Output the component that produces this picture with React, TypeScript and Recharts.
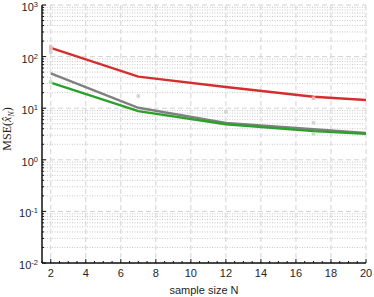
import { ComposedChart, Line, Scatter, XAxis, YAxis, CartesianGrid } from "recharts";

// sample sizes and mean squared errors of the three estimators
const sampleSizes = [2, 7, 12, 17, 20];
const redMse = [147, 40.8, 25.8, 16.7, 14.4];
const grayMse = [47.4, 10.2, 5.2, 3.9, 3.3];
const greenMse = [31.2, 8.8, 4.9, 3.6, 3.2];

// faint markers
const redMarkX = [2, 17];
const redMarkY = [148, 15.6];
const grayMarkX = [2, 2, 2, 7, 12, 17];
const grayMarkY = [122, 138, 158, 17.2, 8.5, 5.2];
const greenMarkX = [2, 17];
const greenMarkY = [32, 3.2];

const xTicks = [2, 4, 6, 8, 10, 12, 14, 16, 18, 20];
const yTicks = [0.01, 0.1, 1, 10, 100, 1000];

const xMinor: number[] = [];
for (let v = 1.5; v <= 20; v += 0.5) xMinor.push(v);
const yMinor: number[] = [];
for (let e = -2; e < 3; e++) for (let m = 2; m <= 9; m++) yMinor.push(m * Math.pow(10, e));
const yAll = [...yTicks, ...yMinor].sort((a, b) => a - b);

const zip = (xs: number[], ys: number[]) => xs.map((x, i) => ({ x, y: ys[i] }));

const isMajorX = (v: number) => xTicks.includes(v);
const isMajorY = (v: number) => Math.abs(Math.log10(v) - Math.round(Math.log10(v))) < 1e-9;

const font = "'Liberation Sans', Arial, sans-serif";
const axisColor = "#111";

const BottomTick = (p: any) => {
  const v = p.payload.value;
  const len = isMajorX(v) ? 4 : 2;
  return (
    <g>
      <line x1={p.x} x2={p.x} y1={p.y} y2={p.y - len} stroke={axisColor} />
      {isMajorX(v) && (
        <text x={p.x} y={p.y + 14} textAnchor="middle" fontSize={11} fontFamily={font} fill="#262626">
          {v}
        </text>
      )}
    </g>
  );
};

const TopTick = (p: any) => {
  const len = isMajorX(p.payload.value) ? 4 : 2;
  return <line x1={p.x} x2={p.x} y1={p.y} y2={p.y + len} stroke={axisColor} />;
};

const LeftTick = (p: any) => {
  const v = p.payload.value;
  const major = isMajorY(v);
  return (
    <g>
      <line x1={p.x} x2={p.x + (major ? 4 : 2)} y1={p.y} y2={p.y} stroke={axisColor} />
      {major && (
        <text x={p.x - 4} y={p.y + 6} textAnchor="end" fontSize={11} fontFamily={font} fill="#262626">
          10
          <tspan dy={-4} fontSize={7.5}>
            {Math.round(Math.log10(v))}
          </tspan>
        </text>
      )}
    </g>
  );
};

const RightTick = (p: any) => {
  const len = isMajorY(p.payload.value) ? 4 : 2;
  return <line x1={p.x} x2={p.x - len} y1={p.y} y2={p.y} stroke={axisColor} />;
};

const square = (fill: string) => (p: any) => (
  <rect x={p.cx - 1.75} y={p.cy - 1.75} width={3.5} height={3.5} fill={fill} />
);

export default function App() {
  return (
    <div style={{ position: "absolute", left: 0, top: 0 }}>
      <ComposedChart width={374} height={297} margin={{ top: 5, right: 8, bottom: 0, left: 0 }}>
        <CartesianGrid
          vertical={false}
          horizontalValues={yMinor}
          stroke="#c8c8c8"
          strokeDasharray="1 1.5"
        />
        <CartesianGrid vertical={false} horizontalValues={yTicks} stroke="#d2d2d2" strokeDasharray="5 3" />
        <CartesianGrid horizontal={false} verticalValues={xTicks} stroke="#d2d2d2" strokeDasharray="5 3" />
        <XAxis
          dataKey="x"
          type="number"
          domain={[1.5, 20]}
          allowDataOverflow
          ticks={xMinor}
          interval={0}
          tickSize={0}
          tickMargin={0}
          tickLine={false}
          tick={BottomTick}
          height={34}
          axisLine={{ stroke: axisColor, strokeWidth: 1.5 }}
          label={{
            content: (lp: any) => (
              <text
                x={lp.viewBox.x + lp.viewBox.width / 2}
                y={lp.viewBox.y + 31}
                textAnchor="middle"
                fontSize={11}
                fontFamily={font}
                fill="#262626"
              >
                sample size N
              </text>
            ),
          }}
        />
        <XAxis
          xAxisId="top"
          orientation="top"
          type="number"
          domain={[1.5, 20]}
          allowDataOverflow
          ticks={xMinor}
          interval={0}
          tickSize={0}
          tickMargin={0}
          tickLine={false}
          tick={TopTick}
          height={0}
          axisLine={{ stroke: axisColor, strokeWidth: 1.5 }}
        />
        <YAxis
          scale="log"
          type="number"
          domain={[0.01, 1000]}
          allowDataOverflow
          ticks={yAll}
          interval={0}
          tickSize={0}
          tickMargin={0}
          tickLine={false}
          tick={LeftTick}
          width={42}
          axisLine={{ stroke: axisColor, strokeWidth: 1.5 }}
          label={{
            content: (lp: any) => {
              const cy = lp.viewBox.y + lp.viewBox.height / 2;
              return (
                <text
                  transform={`translate(11, ${cy - 5}) rotate(-90)`}
                  textAnchor="middle"
                  fontSize={12}
                  fontFamily="'Liberation Serif', 'Times New Roman', serif"
                  fill="#262626"
                >
                  MSE(
                  <tspan fontStyle="italic">{"x\u0302"}</tspan>
                  <tspan fontStyle="italic" fontSize={8} dy={3}>
                    N
                  </tspan>
                  <tspan dy={-3}>)</tspan>
                </text>
              );
            },
          }}
        />
        <YAxis
          yAxisId="right"
          orientation="right"
          scale="log"
          type="number"
          domain={[0.01, 1000]}
          allowDataOverflow
          ticks={yAll}
          interval={0}
          tickSize={0}
          tickMargin={0}
          tickLine={false}
          tick={RightTick}
          width={0}
          axisLine={{ stroke: axisColor, strokeWidth: 1.5 }}
        />
        <Scatter data={zip(grayMarkX, grayMarkY)} dataKey="y" shape={square("#d4d4d4")} isAnimationActive={false} />
        <Scatter data={zip(redMarkX, redMarkY)} dataKey="y" shape={square("#efb4b4")} isAnimationActive={false} />
        <Scatter data={zip(greenMarkX, greenMarkY)} dataKey="y" shape={square("#b4e8b4")} isAnimationActive={false} />
        <Line data={zip(sampleSizes, redMse)} dataKey="y" stroke="#d42f2f" strokeWidth={2.4} dot={false} isAnimationActive={false} />
        <Line data={zip(sampleSizes, grayMse)} dataKey="y" stroke="#808080" strokeWidth={2.4} dot={false} isAnimationActive={false} />
        <Line data={zip(sampleSizes, greenMse)} dataKey="y" stroke="#2ca02c" strokeWidth={2.4} dot={false} isAnimationActive={false} />
      </ComposedChart>
    </div>
  );
}
